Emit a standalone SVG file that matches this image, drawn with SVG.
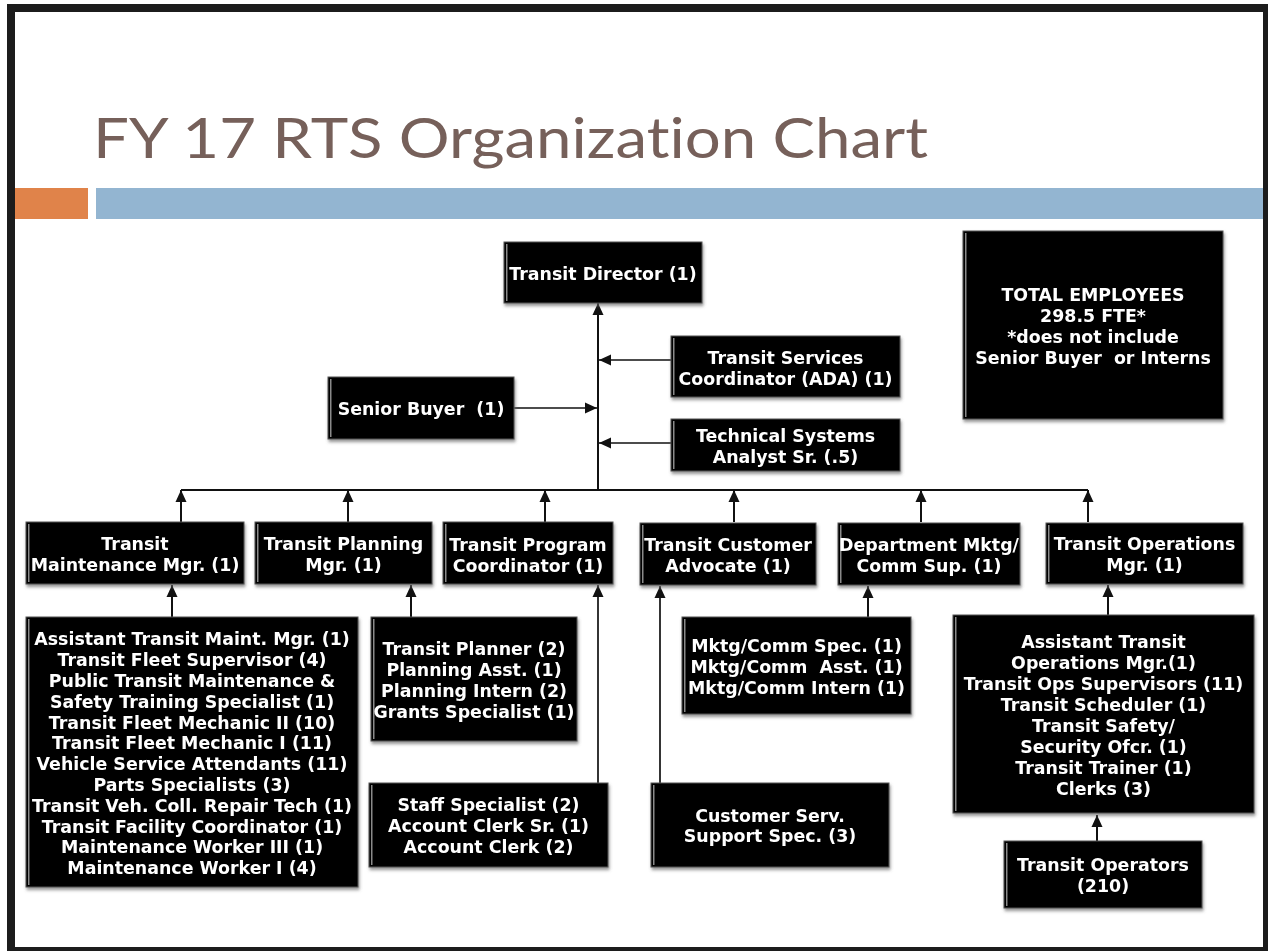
<svg xmlns="http://www.w3.org/2000/svg" width="1268" height="951" viewBox="0 0 1268 951">
<style>
.box{fill:#000;stroke:#555;stroke-width:1}
.hl{fill:#8a8a8a}
.t{fill:#fff;font-family:"DejaVu Sans","Verdana",sans-serif;font-weight:bold;font-size:17.4px;text-anchor:middle}
.c{stroke:#111;stroke-width:2;fill:none}
.cs{stroke:#111;stroke-width:1.7;fill:none}
</style>
<defs>
<filter id="sh" x="-5%" y="-5%" width="115%" height="120%">
<feDropShadow dx="1" dy="2.5" stdDeviation="1.5" flood-color="#666" flood-opacity="0.7"/>
</filter>
<marker id="ah" markerUnits="userSpaceOnUse" markerWidth="14" markerHeight="14" viewBox="0 0 14 14" refX="12" refY="7" orient="auto">
<path d="M0,1.5 L12,7 L0,12.5 Z" fill="#111"/>
</marker>
</defs>
<rect x="7" y="4" width="1261" height="947" fill="#1c1c1c"/>
<rect x="15" y="12" width="1248" height="935" fill="#fff"/>
<text x="93" y="158" font-family="Lato,'Open Sans',sans-serif" font-size="57" fill="#76605a" style="font-variant-ligatures:none" textLength="835" lengthAdjust="spacingAndGlyphs">FY 17 RTS Organization Chart</text>
<rect x="15" y="188" width="73" height="31" fill="#e0834a"/>
<rect x="96" y="188" width="1167" height="31" fill="#93b5d1"/>

<g id="connectors">
<path class="c" d="M598,490 V303" marker-end="url(#ah)"/>
<path class="cs" d="M671,360 H599" marker-end="url(#ah)"/>
<path class="cs" d="M514,408 H597" marker-end="url(#ah)"/>
<path class="cs" d="M671,443 H599" marker-end="url(#ah)"/>
<path class="c" d="M181,490 H1088"/>
<path class="c" d="M181,522 V490" marker-end="url(#ah)"/>
<path class="c" d="M348,522 V490" marker-end="url(#ah)"/>
<path class="c" d="M545,522 V490" marker-end="url(#ah)"/>
<path class="c" d="M734,522 V490" marker-end="url(#ah)"/>
<path class="c" d="M921,522 V490" marker-end="url(#ah)"/>
<path class="c" d="M1088,522 V490" marker-end="url(#ah)"/>
<path class="c" d="M172,617 V585" marker-end="url(#ah)"/>
<path class="c" d="M411,617 V585" marker-end="url(#ah)"/>
<path class="cs" d="M598,783 V585" marker-end="url(#ah)"/>
<path class="cs" d="M660,783 V586" marker-end="url(#ah)"/>
<path class="c" d="M868,617 V586" marker-end="url(#ah)"/>
<path class="c" d="M1108,615 V585" marker-end="url(#ah)"/>
<path class="c" d="M1097,841 V815" marker-end="url(#ah)"/>
</g>

<g id="n-director" filter="url(#sh)"><rect class="box" x="504" y="242" width="198" height="61"/><rect class="hl" x="506" y="244" width="1.5" height="57"/><text class="t" x="603" y="280">Transit Director (1)</text></g>

<g id="n-tsc" filter="url(#sh)"><rect class="box" x="671" y="336" width="229" height="61"/><rect class="hl" x="673" y="338" width="1.5" height="57"/><text class="t" x="785.5" y="364">Transit Services</text><text class="t" x="785.5" y="385">Coordinator (ADA) (1)</text></g>

<g id="n-tech" filter="url(#sh)"><rect class="box" x="671" y="419" width="229" height="52"/><rect class="hl" x="673" y="421" width="1.5" height="48"/><text class="t" x="785.5" y="442">Technical Systems</text><text class="t" x="785.5" y="463">Analyst Sr. (.5)</text></g>

<g id="n-buyer" filter="url(#sh)"><rect class="box" x="328" y="377" width="186" height="62"/><rect class="hl" x="330" y="379" width="1.5" height="58"/><text class="t" x="421" y="415" xml:space="preserve">Senior Buyer  (1)</text></g>

<g id="n-total" filter="url(#sh)"><rect class="box" x="963" y="231" width="260" height="188"/><rect class="hl" x="965" y="233" width="1.5" height="184"/><text class="t" x="1093" y="301">TOTAL EMPLOYEES</text><text class="t" x="1093" y="322">298.5 FTE*</text><text class="t" x="1093" y="343">*does not include</text><text class="t" x="1093" y="364" xml:space="preserve">Senior Buyer  or Interns</text></g>

<g id="n-maint" filter="url(#sh)"><rect class="box" x="26" y="522" width="218" height="62"/><rect class="hl" x="28" y="524" width="1.5" height="58"/><text class="t" x="135" y="550">Transit</text><text class="t" x="135" y="571">Maintenance Mgr. (1)</text></g>

<g id="n-planning" filter="url(#sh)"><rect class="box" x="255" y="522" width="177" height="62"/><rect class="hl" x="257" y="524" width="1.5" height="58"/><text class="t" x="343.5" y="550">Transit Planning</text><text class="t" x="343.5" y="571">Mgr. (1)</text></g>

<g id="n-program" filter="url(#sh)"><rect class="box" x="443" y="522" width="170" height="62"/><rect class="hl" x="445" y="524" width="1.5" height="58"/><text class="t" x="528" y="551">Transit Program</text><text class="t" x="528" y="572">Coordinator (1)</text></g>

<g id="n-advocate" filter="url(#sh)"><rect class="box" x="640" y="523" width="176" height="62"/><rect class="hl" x="642" y="525" width="1.5" height="58"/><text class="t" x="728" y="551">Transit Customer</text><text class="t" x="728" y="572">Advocate (1)</text></g>

<g id="n-mktg" filter="url(#sh)"><rect class="box" x="838" y="523" width="182" height="62"/><rect class="hl" x="840" y="525" width="1.5" height="58"/><text class="t" x="929" y="551">Department Mktg/</text><text class="t" x="929" y="572">Comm Sup. (1)</text></g>

<g id="n-ops" filter="url(#sh)"><rect class="box" x="1046" y="523" width="197" height="61"/><rect class="hl" x="1048" y="525" width="1.5" height="57"/><text class="t" x="1144.5" y="550">Transit Operations</text><text class="t" x="1144.5" y="571">Mgr. (1)</text></g>

<g id="n-maint-staff" filter="url(#sh)"><rect class="box" x="26" y="617" width="332" height="270"/><rect class="hl" x="28" y="619" width="1.5" height="266"/>
<text class="t" x="192" y="645">Assistant Transit Maint. Mgr. (1)</text>
<text class="t" x="192" y="666">Transit Fleet Supervisor (4)</text>
<text class="t" x="192" y="687">Public Transit Maintenance &amp;</text>
<text class="t" x="192" y="708">Safety Training Specialist (1)</text>
<text class="t" x="192" y="729">Transit Fleet Mechanic II (10)</text>
<text class="t" x="192" y="749">Transit Fleet Mechanic I (11)</text>
<text class="t" x="192" y="770">Vehicle Service Attendants (11)</text>
<text class="t" x="192" y="791">Parts Specialists (3)</text>
<text class="t" x="192" y="812">Transit Veh. Coll. Repair Tech (1)</text>
<text class="t" x="192" y="833">Transit Facility Coordinator (1)</text>
<text class="t" x="192" y="853">Maintenance Worker III (1)</text>
<text class="t" x="192" y="874">Maintenance Worker I (4)</text>
</g>

<g id="n-planning-staff" filter="url(#sh)"><rect class="box" x="371" y="617" width="206" height="124"/><rect class="hl" x="373" y="619" width="1.5" height="120"/>
<text class="t" x="474" y="655">Transit Planner (2)</text>
<text class="t" x="474" y="676">Planning Asst. (1)</text>
<text class="t" x="474" y="697">Planning Intern (2)</text>
<text class="t" x="474" y="718">Grants Specialist (1)</text>
</g>

<g id="n-staff-spec" filter="url(#sh)"><rect class="box" x="369" y="783" width="239" height="84"/><rect class="hl" x="371" y="785" width="1.5" height="80"/>
<text class="t" x="488.5" y="811">Staff Specialist (2)</text>
<text class="t" x="488.5" y="832">Account Clerk Sr. (1)</text>
<text class="t" x="488.5" y="853">Account Clerk (2)</text>
</g>

<g id="n-custserv" filter="url(#sh)"><rect class="box" x="651" y="783" width="238" height="84"/><rect class="hl" x="653" y="785" width="1.5" height="80"/>
<text class="t" x="770" y="822">Customer Serv.</text>
<text class="t" x="770" y="842">Support Spec. (3)</text>
</g>

<g id="n-mktg-staff" filter="url(#sh)"><rect class="box" x="682" y="617" width="229" height="97"/><rect class="hl" x="684" y="619" width="1.5" height="93"/>
<text class="t" x="796.5" y="652">Mktg/Comm Spec. (1)</text>
<text class="t" x="796.5" y="673" xml:space="preserve">Mktg/Comm  Asst. (1)</text>
<text class="t" x="796.5" y="694">Mktg/Comm Intern (1)</text>
</g>

<g id="n-ops-staff" filter="url(#sh)"><rect class="box" x="953" y="615" width="301" height="198"/><rect class="hl" x="955" y="617" width="1.5" height="194"/>
<text class="t" x="1103.5" y="648">Assistant Transit</text>
<text class="t" x="1103.5" y="669">Operations Mgr.(1)</text>
<text class="t" x="1103.5" y="690">Transit Ops Supervisors (11)</text>
<text class="t" x="1103.5" y="711">Transit Scheduler (1)</text>
<text class="t" x="1103.5" y="732">Transit Safety/</text>
<text class="t" x="1103.5" y="753">Security Ofcr. (1)</text>
<text class="t" x="1103.5" y="774">Transit Trainer (1)</text>
<text class="t" x="1103.5" y="795">Clerks (3)</text>
</g>

<g id="n-operators" filter="url(#sh)"><rect class="box" x="1004" y="841" width="198" height="67"/><rect class="hl" x="1006" y="843" width="1.5" height="63"/>
<text class="t" x="1103" y="871">Transit Operators</text>
<text class="t" x="1103" y="892">(210)</text>
</g>
</svg>
